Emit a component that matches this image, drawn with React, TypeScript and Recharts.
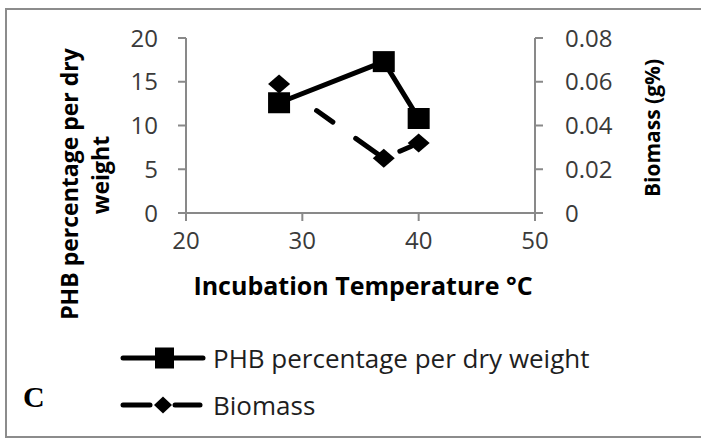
import React from 'react';
import { LineChart, Line, XAxis, YAxis, Legend, Label } from 'recharts';

// ---------- data ----------
const temperatures = [28, 37, 40];
const phbPercent = [12.6, 17.3, 10.8];
const biomassValues = [0.059, 0.025, 0.032];

const xTicks = [20, 30, 40, 50];
const leftTicks = [0, 5, 10, 15, 20];
const rightTicks = [0, 0.02, 0.04, 0.06, 0.08];

const phbName = 'PHB percentage per dry weight';
const biomassName = 'Biomass';
const legendOrder = ['phb', 'biomass'];
const xTitle = 'Incubation Temperature °C';
const leftTitleLines = ['PHB percentage per dry', 'weight'];
const rightTitle = 'Biomass (g%)';
const panelLabel = 'C';

const data = temperatures.map((t, i) => ({
  temp: t,
  phb: phbPercent[i],
  biomass: biomassValues[i],
}));

// ---------- styles ----------
const FONT = '"Open Sans", "DejaVu Sans", sans-serif';
const AXIS_COLOR = '#898989';
const TICK_COLOR = '#3a3a3a';

const SquareDot = (props: any) => {
  const { cx, cy, index } = props;
  if (cx == null || cy == null) return <g key={`sq-${index}`} />;
  return <rect key={`sq-${index}`} x={cx - 11} y={cy - 10.5} width={22} height={21} fill="#000" />;
};

const DiamondDot = (props: any) => {
  const { cx, cy, index } = props;
  if (cx == null || cy == null) return <g key={`dm-${index}`} />;
  return (
    <polygon
      key={`dm-${index}`}
      points={`${cx},${cy - 9.5} ${cx + 11},${cy} ${cx},${cy + 9.5} ${cx - 11},${cy}`}
      fill="#000"
    />
  );
};

const renderLegend = (props: any) => {
  const payload = [...(props.payload || [])].sort(
    (a: any, b: any) => legendOrder.indexOf(a.dataKey) - legendOrder.indexOf(b.dataKey)
  );
  return (
    <div style={{ width: 540 }}>
      {payload.map((entry: any) => {
        const isPhb = entry.dataKey === 'phb';
        return (
          <div key={entry.value} style={{ display: 'flex', alignItems: 'center', height: 47 }}>
            <svg width={93} height={26} style={{ display: 'block' }}>
              {isPhb ? (
                <>
                  <line x1={3} y1={13} x2={83} y2={13} stroke="#000" strokeWidth={5} strokeLinecap="round" />
                  <rect x={35} y={2.5} width={19} height={21} fill="#000" />
                </>
              ) : (
                <>
                  <line x1={3} y1={13} x2={30} y2={13} stroke="#000" strokeWidth={5} strokeLinecap="round" />
                  <line x1={55} y1={13} x2={80} y2={13} stroke="#000" strokeWidth={5} strokeLinecap="round" />
                  <polygon points="43,4.5 52,13 43,21.5 34,13" fill="#000" />
                </>
              )}
            </svg>
            <span style={{ fontFamily: FONT, fontSize: 26, color: '#1e1e1e', whiteSpace: 'nowrap' }}>
              {entry.value}
            </span>
          </div>
        );
      })}
    </div>
  );
};

const LeftTitle = () => (
  <g>
    <text
      transform="translate(78,184) rotate(-90)"
      textAnchor="middle"
      fontFamily={FONT}
      fontWeight="bold"
      fontSize={23}
      fill="#000"
    >
      {leftTitleLines[0]}
    </text>
    <text
      transform="translate(109,175) rotate(-90)"
      textAnchor="middle"
      fontFamily={FONT}
      fontWeight="bold"
      fontSize={23}
      fill="#000"
    >
      {leftTitleLines[1]}
    </text>
  </g>
);

const RightTitle = () => (
  <text
    transform="translate(660,128) rotate(-90)"
    textAnchor="middle"
    fontFamily={FONT}
    fontWeight="bold"
    fontSize={21}
    fill="#000"
  >
    {rightTitle}
  </text>
);

const BottomTitle = () => (
  <text x={363} y={295} textAnchor="middle" fontFamily={FONT} fontWeight="bold" fontSize={25} fill="#000">
    {xTitle}
  </text>
);

export default function App() {
  const tickStyle = { fill: TICK_COLOR, fontSize: 24, fontFamily: FONT };
  return (
    <div style={{ position: 'absolute', left: 0, top: 0, width: 701, height: 440, overflow: 'hidden', background: '#fff' }}>
      <svg width={701} height={440} style={{ position: 'absolute', left: 0, top: 0 }}>
        <rect x={6} y={9} width={740} height={428} fill="none" stroke="#8c8c8c" strokeWidth={2} />
        <text x={23} y={407} fontFamily='"Liberation Serif", serif' fontWeight="bold" fontSize={30} fill="#000">
          {panelLabel}
        </text>
      </svg>
      <div style={{ position: 'absolute', left: 0, top: 0 }}>
        <LineChart width={701} height={440} data={data} margin={{ top: 38, left: 86, right: 106, bottom: 187 }}>
          <XAxis
            dataKey="temp"
            type="number"
            domain={[20, 50]}
            ticks={xTicks}
            allowDataOverflow
            height={40}
            stroke={AXIS_COLOR}
            strokeWidth={2}
            tickSize={8}
            tickMargin={11}
            tick={tickStyle}
            tickLine={{ stroke: AXIS_COLOR, strokeWidth: 2 }}
          >
            <Label content={() => <BottomTitle />} />
          </XAxis>
          <YAxis
            yAxisId="left"
            orientation="left"
            domain={[0, 20]}
            ticks={leftTicks}
            width={100}
            stroke={AXIS_COLOR}
            strokeWidth={2}
            tickSize={8}
            tickMargin={20}
            tick={tickStyle}
            tickLine={{ stroke: AXIS_COLOR, strokeWidth: 2 }}
          >
            <Label content={() => <LeftTitle />} />
          </YAxis>
          <YAxis
            yAxisId="right"
            orientation="right"
            domain={[0, 0.08]}
            ticks={rightTicks}
            width={60}
            stroke={AXIS_COLOR}
            strokeWidth={2}
            tickSize={8}
            tickMargin={22}
            tick={tickStyle}
            tickLine={{ stroke: AXIS_COLOR, strokeWidth: 2 }}
            tickFormatter={(v: number) => (v === 0 ? '0' : v.toFixed(2))}
          >
            <Label content={() => <RightTitle />} />
          </YAxis>
          <Line
            yAxisId="left"
            dataKey="phb"
            name={phbName}
            stroke="#000"
            strokeWidth={5}
            strokeLinejoin="round"
            dot={SquareDot}
            activeDot={false}
            isAnimationActive={false}
          />
          <Line
            yAxisId="right"
            dataKey="biomass"
            name={biomassName}
            stroke="#000"
            strokeWidth={5}
            strokeLinecap="round"
            strokeDasharray="0 46 20 28 30 22 12 60"
            dot={DiamondDot}
            activeDot={false}
            isAnimationActive={false}
          />
          <Legend
            layout="horizontal"
            verticalAlign="middle"
            align="center"
            content={renderLegend}
            wrapperStyle={{ left: 120, top: 334, width: 540, height: 100 }}
          />
        </LineChart>
      </div>
    </div>
  );
}
